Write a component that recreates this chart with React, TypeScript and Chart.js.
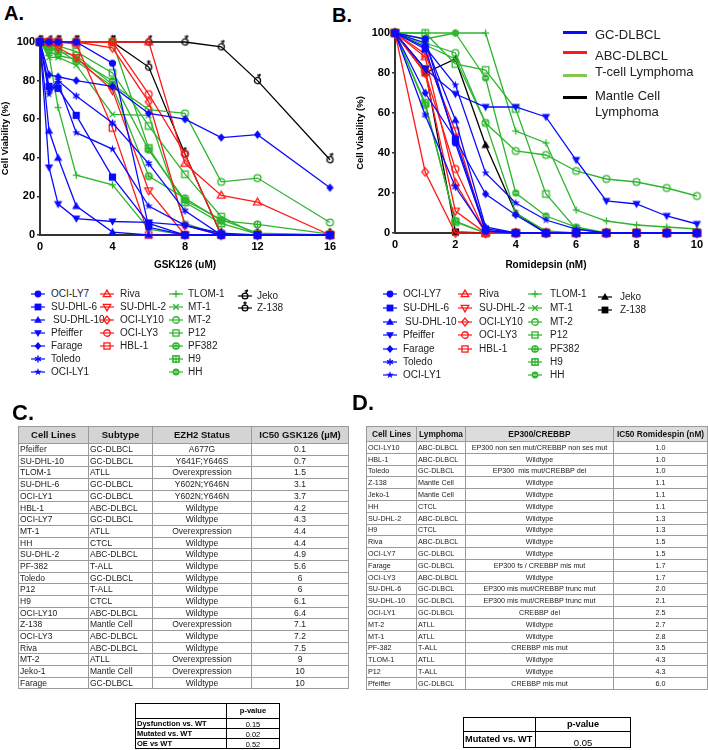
import React, { useEffect, useRef } from 'react';
import { Chart, registerables } from 'chart.js';
Chart.register(...registerables);

const FONT = "'Liberation Sans', Arial, Helvetica, sans-serif";
const BLUE = '#0a0aff';
const RED = '#ff1a1a';
const GREEN = '#2eb52e';
const BLACK = '#000000';

// ---------- Panel A data (GSK126, uM) ----------
const xA = [0, 0.5, 1, 2, 4, 6, 8, 10, 12, 16];
const aOCILY7 = [100, 100, 100, 100, 89, 4, 0, 0, 0, 0];
const aSUDHL6 = [100, 77, 76, 62, 30, 6, 0, 0, 0, 0];
const aSUDHL10 = [100, 54, 40, 15, 1.5, 0, 0, 0, 0, 0];
const aPfeiffer = [100, 35, 16, 8.5, 7, 6.5, 5, 1, 0, 0];
const aFarage = [100, 83, 82, 80, 77, 63, 60, 50.5, 52, 24.5];
const aToledo = [100, 75, 80, 72, 58, 37, 12.5, 0, 0, 0];
const aOCILY1 = [100, 73, 79, 53, 44.5, 15, 5, 0, 0, 0];
const aRiva = [100, 100, 100, 100, 100, 100, 37, 20.5, 17, 0];
const aSUDHL2 = [100, 100, 97, 92, 75, 23, 0, 0, 0, 0];
const aOCILY10 = [100, 100, 100, 100, 97, 69, 5, 0, 0, 0];
const aOCILY3 = [100, 100, 100, 100, 100, 73, 42, 0, 0, 0];
const aHBL1 = [100, 100, 100, 99, 55.5, 0, 0, 0, 0, 0];
const aTLOM1 = [100, 93, 66, 31, 26, 3, 0, 0, 0, 0];
const aMT1 = [100, 92, 92, 88, 62.5, 62, 6, 0, 0, 0];
const aMT2 = [100, 97, 95, 93, 78, 65, 63, 27.5, 29.5, 6.5];
const aP12 = [100, 98, 98, 95, 84, 56.5, 31.5, 9.5, 0, 0];
const aPF382 = [100, 97, 96, 90, 77, 30.5, 19, 7.5, 5.5, 0.5];
const aH9 = [100, 100, 100, 100, 100, 45, 17, 6, 0.5, 0];
const aHH = [100, 95, 93, 91, 80, 44, 18, 8, 1, 0];
const aJeko = [100, 100, 100, 100, 100, 100, 100, 97.5, 80, 39];
const aZ138 = [100, 97, 100, 100, 100, 87, 42, 0, 0, 0];

// ---------- Panel B data (Romidepsin, nM) ----------
const xB = [0, 1, 2, 3, 4, 5, 6, 7, 8, 9, 10];
const bOCILY7 = [100, 97, 45, 1, 0, 0, 0, 0, 0, 0, 0];
const bSUDHL6 = [100, 92, 47, 2, 0, 0, 0, 0, 0, 0, 0];
const bSUDHL10 = [100, 95, 56.5, 3, 0, 0, 0, 0, 0, 0, 0];
const bPfeiffer = [100, 82, 69.5, 63, 63, 58, 36.5, 16, 14.5, 8.5, 4.5];
const bFarage = [100, 70, 47, 19.5, 9, 0, 0, 0, 0, 0, 0];
const bToledo = [100, 59, 23, 1, 0, 0, 0, 0, 0, 0, 0];
const bOCILY1 = [100, 93, 74, 30, 15, 6.5, 2, 0, 0, 0, 0];
const bRiva = [100, 88, 25, 0, 0, 0, 0, 0, 0, 0, 0];
const bSUDHL2 = [100, 80, 11, 0, 0, 0, 0, 0, 0, 0, 0];
const bOCILY10 = [100, 30.5, 0, 0, 0, 0, 0, 0, 0, 0, 0];
const bOCILY3 = [100, 80, 32, 0, 0, 0, 0, 0, 0, 0, 0];
const bHBL1 = [100, 89.5, 51, 0, 0, 0, 0, 0, 0, 0, 0];
const bTLOM1 = [100, 100, 100, 100, 51, 45, 11.5, 6, 4, 3, 2];
const bMT1 = [100, 94, 87, 55, 10, 1, 0, 0, 0, 0, 0];
const bMT2 = [100, 95, 90, 55, 41, 39, 31, 27, 25.5, 22.5, 18.5];
const bP12 = [100, 100, 84.5, 81.5, 62, 19.5, 2, 0, 0, 0, 0];
const bPF382 = [100, 64, 6, 0, 0, 0, 0, 0, 0, 0, 0];
const bH9 = [100, 65, 5.5, 0, 0, 0, 0, 0, 0, 0, 0];
const bHH = [100, 97, 100, 77.5, 20, 8.5, 3, 0, 0, 0, 0];
const bJeko = [100, 80, 87, 44, 10, 0, 0, 0, 0, 0, 0];
const bZ138 = [100, 82, 0.5, 0, 0, 0, 0, 0, 0, 0, 0];

// ---------- Tables ----------
const cLines = ['Pfeiffer', 'SU-DHL-10', 'TLOM-1', 'SU-DHL-6', 'OCI-LY1', 'HBL-1', 'OCI-LY7', 'MT-1', 'HH', 'SU-DHL-2', 'PF-382', 'Toledo', 'P12', 'H9', 'OCI-LY10', 'Z-138', 'OCI-LY3', 'Riva', 'MT-2', 'Jeko-1', 'Farage'];
const cSubtype = ['GC-DLBCL', 'GC-DLBCL', 'ATLL', 'GC-DLBCL', 'GC-DLBCL', 'ABC-DLBCL', 'GC-DLBCL', 'ATLL', 'CTCL', 'ABC-DLBCL', 'T-ALL', 'GC-DLBCL', 'T-ALL', 'CTCL', 'ABC-DLBCL', 'Mantle Cell', 'ABC-DLBCL', 'ABC-DLBCL', 'ATLL', 'Mantle Cell', 'GC-DLBCL'];
const cStatus = ['A677G', 'Y641F;Y646S', 'Overexpression', 'Y602N;Y646N', 'Y602N;Y646N', 'Wildtype', 'Wildtype', 'Overexpression', 'Wildtype', 'Wildtype', 'Wildtype', 'Wildtype', 'Wildtype', 'Wildtype', 'Wildtype', 'Overexpression', 'Wildtype', 'Wildtype', 'Overexpression', 'Overexpression', 'Wildtype'];
const cIC50 = ['0.1', '0.7', '1.5', '3.1', '3.7', '4.2', '4.3', '4.4', '4.4', '4.9', '5.6', '6', '6', '6.1', '6.4', '7.1', '7.2', '7.5', '9', '10', '10'];
const cPLabels = ['Dysfunction vs. WT', 'Mutated vs. WT', 'OE vs WT'];
const cPValues = ['0.15', '0.02', '0.52'];

const dLines = ['OCI-LY10', 'HBL-1', 'Toledo', 'Z-138', 'Jeko-1', 'HH', 'SU-DHL-2', 'H9', 'Riva', 'OCI-LY7', 'Farage', 'OCI-LY3', 'SU-DHL-6', 'SU-DHL-10', 'OCI-LY1', 'MT-2', 'MT-1', 'PF-382', 'TLOM-1', 'P12', 'Pfeiffer'];
const dLymphoma = ['ABC-DLBCL', 'ABC-DLBCL', 'GC-DLBCL', 'Mantle Cell', 'Mantle Cell', 'CTCL', 'ABC-DLBCL', 'CTCL', 'ABC-DLBCL', 'GC-DLBCL', 'GC-DLBCL', 'ABC-DLBCL', 'GC-DLBCL', 'GC-DLBCL', 'GC-DLBCL', 'ATLL', 'ATLL', 'T-ALL', 'ATLL', 'T-ALL', 'GC-DLBCL'];
const dStatus = ['EP300 non sen mut/CREBBP non ses mut', 'Wildtype', 'EP300  mis mut/CREBBP del', 'Wildtype', 'Wildtype', 'Wildtype', 'Wildtype', 'Wildtype', 'Wildtype', 'Wildtype', 'EP300 fs / CREBBP mis mut', 'Wildtype', 'EP300 mis mut/CREBBP trunc mut', 'EP300 mis mut/CREBBP trunc mut', 'CREBBP del', 'Wildtype', 'Wildtype', 'CREBBP mis mut', 'Wildtype', 'Wildtype', 'CREBBP mis mut'];
const dIC50 = ['1.0', '1.0', '1.0', '1.1', '1.1', '1.1', '1.3', '1.3', '1.5', '1.5', '1.7', '1.7', '2.0', '2.1', '2.5', '2.7', '2.8', '3.5', '4.3', '4.3', '6.0'];

type Series = { name: string; marker: string; color: string; values: number[] };

const seriesA: Series[] = [
  { name: 'OCI-LY7', marker: 'circle', color: BLUE, values: aOCILY7 },
  { name: 'SU-DHL-6', marker: 'square', color: BLUE, values: aSUDHL6 },
  { name: 'SU-DHL-10', marker: 'tri', color: BLUE, values: aSUDHL10 },
  { name: 'Pfeiffer', marker: 'triDown', color: BLUE, values: aPfeiffer },
  { name: 'Farage', marker: 'diamond', color: BLUE, values: aFarage },
  { name: 'Toledo', marker: 'asterisk', color: BLUE, values: aToledo },
  { name: 'OCI-LY1', marker: 'star', color: BLUE, values: aOCILY1 },
  { name: 'Riva', marker: 'triO', color: RED, values: aRiva },
  { name: 'SU-DHL-2', marker: 'triDownO', color: RED, values: aSUDHL2 },
  { name: 'OCI-LY10', marker: 'diamondO', color: RED, values: aOCILY10 },
  { name: 'OCI-LY3', marker: 'circleO', color: RED, values: aOCILY3 },
  { name: 'HBL-1', marker: 'squareO', color: RED, values: aHBL1 },
  { name: 'TLOM-1', marker: 'plus', color: GREEN, values: aTLOM1 },
  { name: 'MT-1', marker: 'x', color: GREEN, values: aMT1 },
  { name: 'MT-2', marker: 'circleO', color: GREEN, values: aMT2 },
  { name: 'P12', marker: 'squareO', color: GREEN, values: aP12 },
  { name: 'PF382', marker: 'circlePlus', color: GREEN, values: aPF382 },
  { name: 'H9', marker: 'squarePlus', color: GREEN, values: aH9 },
  { name: 'HH', marker: 'circleDot', color: GREEN, values: aHH },
  { name: 'Jeko', marker: 'jeko', color: BLACK, values: aJeko },
  { name: 'Z-138', marker: 'z138', color: BLACK, values: aZ138 },
];

const seriesB: Series[] = [
  { name: 'OCI-LY7', marker: 'circle', color: BLUE, values: bOCILY7 },
  { name: 'SU-DHL-6', marker: 'square', color: BLUE, values: bSUDHL6 },
  { name: 'SU-DHL-10', marker: 'tri', color: BLUE, values: bSUDHL10 },
  { name: 'Pfeiffer', marker: 'triDown', color: BLUE, values: bPfeiffer },
  { name: 'Farage', marker: 'diamond', color: BLUE, values: bFarage },
  { name: 'Toledo', marker: 'asterisk', color: BLUE, values: bToledo },
  { name: 'OCI-LY1', marker: 'star', color: BLUE, values: bOCILY1 },
  { name: 'Riva', marker: 'triO', color: RED, values: bRiva },
  { name: 'SU-DHL-2', marker: 'triDownO', color: RED, values: bSUDHL2 },
  { name: 'OCI-LY10', marker: 'diamondO', color: RED, values: bOCILY10 },
  { name: 'OCI-LY3', marker: 'circleO', color: RED, values: bOCILY3 },
  { name: 'HBL-1', marker: 'squareO', color: RED, values: bHBL1 },
  { name: 'TLOM-1', marker: 'plus', color: GREEN, values: bTLOM1 },
  { name: 'MT-1', marker: 'x', color: GREEN, values: bMT1 },
  { name: 'MT-2', marker: 'circleO', color: GREEN, values: bMT2 },
  { name: 'P12', marker: 'squareO', color: GREEN, values: bP12 },
  { name: 'PF382', marker: 'circlePlus', color: GREEN, values: bPF382 },
  { name: 'H9', marker: 'squarePlus', color: GREEN, values: bH9 },
  { name: 'HH', marker: 'circleDot', color: GREEN, values: bHH },
  { name: 'Jeko', marker: 'tri', color: BLACK, values: bJeko },
  { name: 'Z-138', marker: 'square', color: BLACK, values: bZ138 },
];

function drawMarker(ctx: CanvasRenderingContext2D, kind: string, x: number, y: number, r: number, color: string) {
  ctx.save();
  ctx.strokeStyle = color;
  ctx.fillStyle = color;
  ctx.lineWidth = 1.3;
  const poly = (pts: number[][]) => {
    ctx.beginPath();
    ctx.moveTo(pts[0][0], pts[0][1]);
    for (let i = 1; i < pts.length; i++) ctx.lineTo(pts[i][0], pts[i][1]);
    ctx.closePath();
  };
  const circ = (rr: number) => { ctx.beginPath(); ctx.arc(x, y, rr, 0, Math.PI * 2); };
  const line = (x1: number, y1: number, x2: number, y2: number) => { ctx.beginPath(); ctx.moveTo(x1, y1); ctx.lineTo(x2, y2); ctx.stroke(); };
  switch (kind) {
    case 'circle': circ(r); ctx.fill(); break;
    case 'circleO': circ(r * 0.95); ctx.stroke(); break;
    case 'circleDot': circ(r); ctx.fill(); ctx.strokeStyle = '#ffffff'; ctx.lineWidth = 0.8; line(x - r * 0.6, y, x + r * 0.6, y); break;
    case 'circlePlus': ctx.lineWidth = 1.6; circ(r * 0.9); ctx.stroke(); ctx.lineWidth = 1.2; line(x - r, y, x + r, y); line(x, y - r, x, y + r); break;
    case 'square': ctx.fillRect(x - r, y - r, 2 * r, 2 * r); break;
    case 'squareO': ctx.strokeRect(x - r * 0.9, y - r * 0.9, 1.8 * r, 1.8 * r); break;
    case 'squarePlus': ctx.lineWidth = 1.6; ctx.strokeRect(x - r * 0.9, y - r * 0.9, 1.8 * r, 1.8 * r); ctx.lineWidth = 1.1; line(x - r, y, x + r, y); line(x, y - r, x, y + r); break;
    case 'tri': poly([[x, y - r * 1.2], [x + r * 1.15, y + r * 0.8], [x - r * 1.15, y + r * 0.8]]); ctx.fill(); break;
    case 'triO': poly([[x, y - r * 1.15], [x + r * 1.1, y + r * 0.75], [x - r * 1.1, y + r * 0.75]]); ctx.stroke(); break;
    case 'triDown': poly([[x, y + r * 1.2], [x + r * 1.15, y - r * 0.8], [x - r * 1.15, y - r * 0.8]]); ctx.fill(); break;
    case 'triDownO': poly([[x, y + r * 1.15], [x + r * 1.1, y - r * 0.75], [x - r * 1.1, y - r * 0.75]]); ctx.stroke(); break;
    case 'diamond': poly([[x, y - r * 1.2], [x + r, y], [x, y + r * 1.2], [x - r, y]]); ctx.fill(); break;
    case 'diamondO': poly([[x, y - r * 1.15], [x + r * 0.95, y], [x, y + r * 1.15], [x - r * 0.95, y]]); ctx.stroke(); break;
    case 'plus': line(x - r, y, x + r, y); line(x, y - r, x, y + r); break;
    case 'x': line(x - r * 0.8, y - r * 0.8, x + r * 0.8, y + r * 0.8); line(x - r * 0.8, y + r * 0.8, x + r * 0.8, y - r * 0.8); break;
    case 'asterisk': {
      ctx.lineWidth = 1.4;
      for (let k = 0; k < 3; k++) {
        const a = (Math.PI / 3) * k + Math.PI / 2;
        line(x - Math.cos(a) * r, y - Math.sin(a) * r, x + Math.cos(a) * r, y + Math.sin(a) * r);
      }
      circ(r * 0.4); ctx.fill();
      break;
    }
    case 'star': {
      const pts: number[][] = [];
      for (let k = 0; k < 10; k++) {
        const a = -Math.PI / 2 + (Math.PI / 5) * k;
        const rr = k % 2 === 0 ? r * 1.2 : r * 0.45;
        pts.push([x + Math.cos(a) * rr, y + Math.sin(a) * rr]);
      }
      poly(pts); ctx.fill();
      break;
    }
    case 'jeko': circ(r * 0.85); ctx.stroke(); line(x + r * 0.3, y - r * 0.8, x + r * 0.7, y - r * 1.9); line(x - r * 0.1, y - r * 1.5, x + r * 0.9, y - r * 1.5); break;
    case 'z138': circ(r * 0.85); ctx.stroke(); line(x, y - r * 0.85, x, y - r * 1.9); line(x - r * 0.5, y - r * 1.5, x + r * 0.5, y - r * 1.5); break;
  }
  ctx.restore();
}

function makeIcon(kind: string, color: string, r: number): HTMLCanvasElement {
  const size = Math.ceil(r * 4 + 6);
  const c = document.createElement('canvas');
  c.width = size;
  c.height = size;
  const ctx = c.getContext('2d')!;
  drawMarker(ctx, kind, size / 2, size / 2, r, color);
  return c;
}

type PanelProps = {
  left: number; top: number; width: number; height: number;
  xs: number[]; series: Series[]; xMax: number; xStep: number; xTitle: string;
  pad: { top: number; right: number; left: number; bottom: number };
  xAxisH: number; yAxisW: number;
};

function ChartPanel(p: PanelProps) {
  const ref = useRef<HTMLCanvasElement | null>(null);
  useEffect(() => {
    const canvas = ref.current!;
    const tickFont = { family: FONT, size: 11, weight: 'bold' as const };
    const chart = new Chart(canvas, {
      type: 'line',
      data: {
        datasets: p.series.map((s) => ({
          label: s.name,
          data: p.xs.map((x, i) => ({ x, y: s.values[i] })),
          borderColor: s.color,
          backgroundColor: s.color,
          borderWidth: 1.3,
          pointStyle: makeIcon(s.marker, s.color, 3.6) as any,
          pointRadius: 4,
          tension: 0,
          fill: false,
          clip: false as any,
        })),
      },
      options: {
        animation: false,
        responsive: false,
        maintainAspectRatio: false,
        layout: { padding: p.pad },
        plugins: { legend: { display: false }, tooltip: { enabled: false } },
        scales: {
          x: {
            type: 'linear',
            min: 0,
            max: p.xMax,
            ticks: { stepSize: p.xStep, font: tickFont, color: '#000', padding: 5 },
            grid: { display: true, drawOnChartArea: false, drawTicks: false, color: '#000', lineWidth: 1.5 },
            border: { display: true, color: '#333', width: 2 },
            title: { display: true, text: p.xTitle, font: { family: FONT, size: 10, weight: 'bold' }, color: '#000', padding: { top: 2, bottom: 4 } },
            afterFit: (scale: any) => { scale.height = p.xAxisH; },
          },
          y: {
            type: 'linear',
            min: 0,
            max: 100,
            ticks: { stepSize: 20, font: tickFont, color: '#000', padding: 2 },
            grid: { display: true, drawOnChartArea: false, drawTicks: true, tickLength: 3, color: '#333', lineWidth: 1.5 },
            border: { display: true, color: '#333', width: 2 },
            title: { display: true, text: 'Cell Viability (%)', font: { family: FONT, size: 9.5, weight: 'bold' }, color: '#000', padding: { top: 0, bottom: 2 } },
            afterFit: (scale: any) => { scale.width = p.yAxisW; },
          },
        },
      },
    });
    return () => chart.destroy();
  }, []);
  return (
    <canvas
      ref={ref}
      width={p.width}
      height={p.height}
      style={{ position: 'absolute', left: p.left, top: p.top, width: p.width, height: p.height }}
    />
  );
}

function LegendIcon({ marker, color, cx, cy }: { marker: string; color: string; cx: number; cy: number }) {
  const ref = useRef<HTMLCanvasElement | null>(null);
  useEffect(() => {
    const c = ref.current!;
    const ctx = c.getContext('2d')!;
    ctx.clearRect(0, 0, c.width, c.height);
    ctx.strokeStyle = color;
    ctx.lineWidth = 1.2;
    ctx.beginPath();
    ctx.moveTo(2, 10);
    ctx.lineTo(16, 10);
    ctx.stroke();
    drawMarker(ctx, marker, 9, 10, 3.4, color);
  }, []);
  return <canvas ref={ref} width={18} height={20} style={{ position: 'absolute', left: cx - 9, top: cy - 10 }} />;
}

function SeriesLegend({ series, markerX, textX, rows, blackRows }: { series: Series[]; markerX: number[]; textX: number[]; rows: number[]; blackRows: number[] }) {
  const groups = [BLUE, RED, GREEN, BLACK];
  const items: any[] = [];
  groups.forEach((g, gi) => {
    const members = series.filter((s) => s.color === g);
    members.forEach((s, i) => {
      const y = gi === 3 ? blackRows[i] : rows[i];
      items.push(
        <React.Fragment key={s.name}>
          <LegendIcon marker={s.marker} color={s.color} cx={markerX[gi]} cy={y} />
          <div style={{ position: 'absolute', left: textX[gi] + (s.name === 'SU-DHL-10' ? 2 : 0), top: y - 7, fontSize: 10, lineHeight: '14px', color: '#222', whiteSpace: 'nowrap' }}>{s.name}</div>
        </React.Fragment>
      );
    });
  });
  return <>{items}</>;
}

type TableProps = {
  left: number; top: number; widths: number[]; headH: number; rowH: number;
  head: string[]; cols: string[][]; aligns: string[]; headSize: number; bodySize: number;
  headBg: string; border: string;
};

function DataTable(p: TableProps) {
  const n = p.cols[0].length;
  const total = p.widths.reduce((a, b) => a + b, 0);
  return (
    <table style={{ position: 'absolute', left: p.left, top: p.top, width: total, borderCollapse: 'collapse', tableLayout: 'fixed', fontFamily: FONT, border: `1.5px solid ${p.border}` }}>
      <colgroup>{p.widths.map((w, i) => <col key={i} style={{ width: w }} />)}</colgroup>
      <thead>
        <tr style={{ height: p.headH }}>
          {p.head.map((h, i) => (
            <th key={i} style={{ background: p.headBg, border: `1px solid ${p.border}`, fontSize: p.headSize, fontWeight: 'bold', padding: 0, textAlign: 'center', color: '#111', whiteSpace: 'nowrap', overflow: 'hidden', lineHeight: 1 }}>{h}</th>
          ))}
        </tr>
      </thead>
      <tbody>
        {Array.from({ length: n }).map((_, r) => (
          <tr key={r} style={{ height: p.rowH }}>
            {p.cols.map((c, ci) => (
              <td key={ci} style={{ border: `1px solid ${p.border}`, fontSize: p.bodySize, padding: '0 1px', textAlign: p.aligns[ci] as any, color: '#222', whiteSpace: 'pre', overflow: 'hidden', lineHeight: 1 }}>{c[r]}</td>
            ))}
          </tr>
        ))}
      </tbody>
    </table>
  );
}

function PTable({ left, top, widths, headH, rowH, labels, values, labelSize, valSize, bw }: any) {
  const total = widths[0] + widths[1];
  const cell = { border: `${bw}px solid #000`, padding: '0 1px', lineHeight: 1, whiteSpace: 'nowrap' as const, overflow: 'hidden' };
  return (
    <table style={{ position: 'absolute', left, top, width: total, borderCollapse: 'collapse', tableLayout: 'fixed', fontFamily: FONT }}>
      <colgroup><col style={{ width: widths[0] }} /><col style={{ width: widths[1] }} /></colgroup>
      <tbody>
        <tr style={{ height: headH }}>
          <td style={cell}></td>
          <td style={{ ...cell, textAlign: 'center', fontWeight: 'bold', fontSize: labelSize }}>p-value</td>
        </tr>
        {labels.map((l: string, i: number) => (
          <tr key={i} style={{ height: rowH }}>
            <td style={{ ...cell, fontWeight: 'bold', fontSize: labelSize }}>{l}</td>
            <td style={{ ...cell, textAlign: 'center', fontSize: valSize, verticalAlign: 'bottom' }}>{values[i]}</td>
          </tr>
        ))}
      </tbody>
    </table>
  );
}

const panelLabel = (text: string, left: number, top: number, size: number) => (
  <div style={{ position: 'absolute', left, top, fontSize: size, fontWeight: 'bold', lineHeight: 1, color: '#000' }}>{text}</div>
);

export default function App() {
  return (
    <div style={{ position: 'absolute', left: 0, top: 0, width: 708, height: 750, overflow: 'hidden', background: '#fff', fontFamily: FONT }}>
      {panelLabel('A.', 4, 3, 20)}
      {panelLabel('B.', 332, 5, 20)}
      <ChartPanel left={0} top={0} width={345} height={275} xs={xA} series={seriesA} xMax={16} xStep={4} xTitle="GSK126 (uM)"
        pad={{ top: 42, right: 15, left: 0, bottom: 0 }} xAxisH={40} yAxisW={40} />
      <ChartPanel left={350} top={0} width={358} height={275} xs={xB} series={seriesB} xMax={10} xStep={2} xTitle="Romidepsin (nM)"
        pad={{ top: 33, right: 11, left: 5, bottom: 0 }} xAxisH={42} yAxisW={40} />

      {/* Panel B inset legend */}
      {[
        { c: BLUE, y: 32, t: 'GC-DLBCL', ty: 35 },
        { c: RED, y: 52, t: 'ABC-DLBCL', ty: 56 },
        { c: '#7fc94f', y: 75, t: 'T-cell Lymphoma', ty: 72 },
        { c: BLACK, y: 97, t: 'Mantle Cell', ty: 96 },
      ].map((it) => (
        <React.Fragment key={it.t}>
          <div style={{ position: 'absolute', left: 563, top: it.y - 1.5, width: 24, height: 3, background: it.c }} />
          <div style={{ position: 'absolute', left: 595, top: it.ty - 8, fontSize: 13, lineHeight: '16px', color: '#222' }}>{it.t}</div>
        </React.Fragment>
      ))}
      <div style={{ position: 'absolute', left: 595, top: 104, fontSize: 13, lineHeight: '16px', color: '#222' }}>Lymphoma</div>

      <SeriesLegend series={seriesA} markerX={[38, 107, 176, 245]} textX={[51, 120, 188, 257]}
        rows={[294, 307, 320, 333, 346, 359, 372]} blackRows={[296, 308]} />
      <SeriesLegend series={seriesB} markerX={[390, 465, 535, 605]} textX={[403, 479, 550, 620]}
        rows={[294, 308, 322, 335, 349, 362, 375]} blackRows={[297, 310]} />

      {panelLabel('C.', 12, 402, 22)}
      {panelLabel('D.', 352, 392, 22)}

      <DataTable left={18} top={426} widths={[70, 64, 99, 97]} headH={17} rowH={11.7}
        head={['Cell Lines', 'Subtype', 'EZH2 Status', 'IC50 GSK126  (\u00b5M)']}
        cols={[cLines, cSubtype, cStatus, cIC50]} aligns={['left', 'left', 'center', 'center']}
        headSize={9.5} bodySize={8.5} headBg="#d4d4d4" border="#9a9a9a" />
      <PTable left={135} top={703} widths={[91, 53]} headH={15} rowH={10} labels={cPLabels} values={cPValues} labelSize={7.5} valSize={7.5} bw={1} />

      <DataTable left={366} top={426} widths={[50, 49, 148, 94]} headH={15} rowH={11.8}
        head={['Cell Lines', 'Lymphoma', 'EP300/CREBBP', 'IC50 Romidespin (nM)']}
        cols={[dLines, dLymphoma, dStatus, dIC50]} aligns={['left', 'left', 'center', 'center']}
        headSize={8.3} bodySize={7.2} headBg="#dcdcdc" border="#9a9a9a" />
      <PTable left={463} top={717} widths={[72, 95]} headH={14} rowH={16} labels={['Mutated vs. WT']} values={['0.05']} labelSize={9.2} valSize={9.5} bw={1.5} />
    </div>
  );
}
